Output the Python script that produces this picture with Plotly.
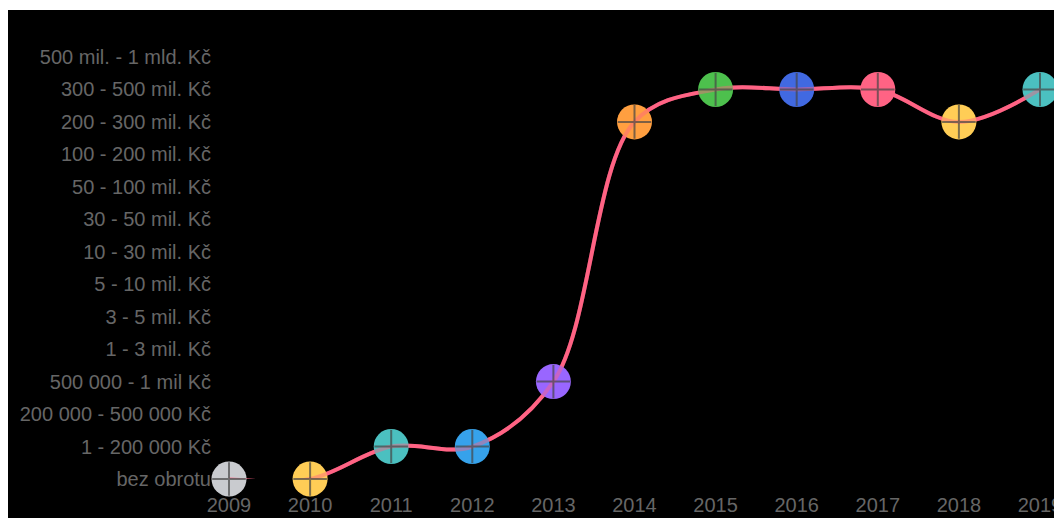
import plotly.graph_objects as go

years = ["2009", "2010", "2011", "2012", "2013", "2014", "2015", "2016", "2017", "2018", "2019"]
levels = [
    "bez obrotu", "1 - 200 000 Kč", "200 000 - 500 000 Kč", "500 000 - 1 mil Kč",
    "1 - 3 mil. Kč", "3 - 5 mil. Kč", "5 - 10 mil. Kč", "10 - 30 mil. Kč",
    "30 - 50 mil. Kč", "50 - 100 mil. Kč", "100 - 200 mil. Kč", "200 - 300 mil. Kč",
    "300 - 500 mil. Kč", "500 mil. - 1 mld. Kč",
]
values = [
    "bez obrotu", "bez obrotu", "1 - 200 000 Kč", "1 - 200 000 Kč", "500 000 - 1 mil Kč",
    "200 - 300 mil. Kč", "300 - 500 mil. Kč", "300 - 500 mil. Kč", "300 - 500 mil. Kč",
    "200 - 300 mil. Kč", "300 - 500 mil. Kč",
]
point_colors = ["#c9cbcf", "#ffcd56", "#4bc0c0", "#36a2eb", "#9966ff", "#ff9f40",
                "#4dc04d", "#4169e1", "#ff6384", "#ffcd56", "#4bc0c0"]
line_color = "#ff6384"

fig = go.Figure()
fig.add_trace(go.Scatter(x=years, y=values, mode="lines",
                         line=dict(color=line_color, width=4, shape="spline", smoothing=1),
                         cliponaxis=False, hoverinfo="skip"))
fig.add_trace(go.Scatter(x=years, y=values, mode="markers",
                         marker=dict(size=35, color=point_colors, line=dict(width=0)),
                         cliponaxis=False))
fig.add_trace(go.Scatter(x=years, y=values, mode="lines",
                         line=dict(color=line_color, width=4, shape="spline", smoothing=1),
                         opacity=0.45, cliponaxis=False, hoverinfo="skip"))
fig.add_trace(go.Scatter(x=years, y=values, mode="markers",
                         marker=dict(symbol="cross-thin", size=24, color="rgba(70,70,70,0.7)",
                                     line=dict(width=2, color="rgba(70,70,70,0.7)")),
                         cliponaxis=False, hoverinfo="skip"))

W = 1054
H = 518
plot_left = 229
plot_right = 1040
plot_top = 57
plot_bottom = 479
pw = plot_right - plot_left
ph = plot_bottom - plot_top

# black panel leaving a white strip on the top and left edges
fig.add_shape(type="rect", xref="paper", yref="paper", layer="below",
              x0=(8 - plot_left) / pw, x1=(W + 20 - plot_left) / pw,
              y0=(plot_bottom - (H + 20)) / ph, y1=(plot_bottom - 10) / ph,
              fillcolor="black", line=dict(width=0))

fig.update_layout(
    width=W, height=H,
    margin=dict(l=plot_left, r=W - plot_right, t=plot_top, b=H - plot_bottom, pad=0,
                autoexpand=False),
    paper_bgcolor="white", plot_bgcolor="black",
    showlegend=False,
    font=dict(family="Liberation Sans, Arial, sans-serif", size=20, color="#666666"),
    xaxis=dict(type="category", categoryorder="array", categoryarray=years,
               range=[0, 10], showgrid=False, zeroline=False, showline=False,
               automargin=False,
               ticks="outside", ticklen=8, tickcolor="rgba(0,0,0,0)",
               tickfont=dict(size=20, color="#666666")),
    yaxis=dict(type="category", categoryorder="array", categoryarray=levels,
               range=[0, 13], showgrid=False, zeroline=False, showline=False,
               automargin=False,
               ticks="outside", ticklen=13, tickcolor="rgba(0,0,0,0)",
               tickfont=dict(size=20, color="#666666")),
)

fig.write_html("out.html")
